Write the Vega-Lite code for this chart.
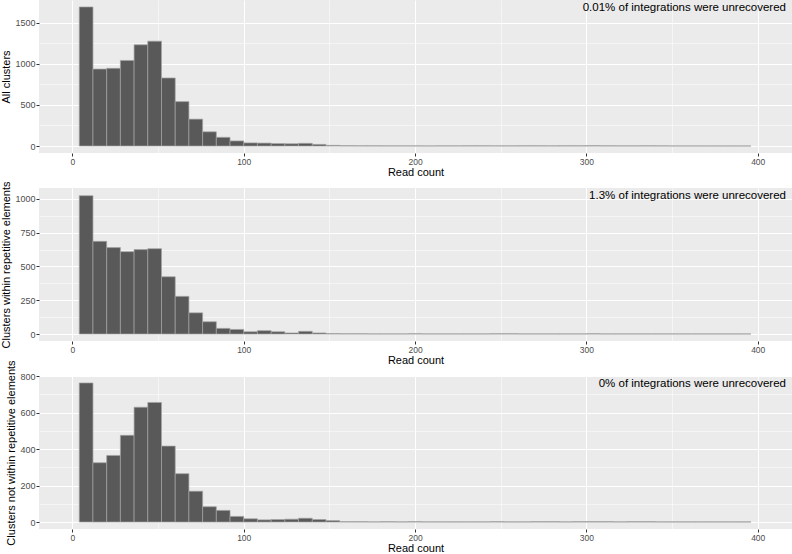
{
  "$schema": "https://vega.github.io/schema/vega-lite/v6.json",
  "padding": {"left": 0, "top": 0, "right": 0, "bottom": 0},
  "background": "white",
  "datasets": {
    "p1": [
      {"start": 4, "end": 12, "count": 1690}, {"start": 12, "end": 20, "count": 935}, {"start": 20, "end": 28, "count": 944},
      {"start": 28, "end": 36, "count": 1040}, {"start": 36, "end": 44, "count": 1230}, {"start": 44, "end": 52, "count": 1274},
      {"start": 52, "end": 60, "count": 827}, {"start": 60, "end": 68, "count": 540}, {"start": 68, "end": 76, "count": 327},
      {"start": 76, "end": 84, "count": 173}, {"start": 84, "end": 92, "count": 106}, {"start": 92, "end": 100, "count": 62},
      {"start": 100, "end": 108, "count": 38}, {"start": 108, "end": 116, "count": 36}, {"start": 116, "end": 124, "count": 30},
      {"start": 124, "end": 132, "count": 28}, {"start": 132, "end": 140, "count": 33}, {"start": 140, "end": 148, "count": 20},
      {"start": 148, "end": 156, "count": 8}, {"start": 156, "end": 164, "count": 4}, {"start": 164, "end": 172, "count": 3},
      {"start": 172, "end": 180, "count": 3}, {"start": 180, "end": 188, "count": 2}, {"start": 188, "end": 196, "count": 2},
      {"start": 196, "end": 204, "count": 2}, {"start": 204, "end": 212, "count": 1}, {"start": 212, "end": 220, "count": 2},
      {"start": 220, "end": 228, "count": 2}, {"start": 228, "end": 236, "count": 3}, {"start": 236, "end": 244, "count": 3},
      {"start": 244, "end": 252, "count": 2}, {"start": 252, "end": 260, "count": 2}, {"start": 260, "end": 268, "count": 3},
      {"start": 268, "end": 276, "count": 3}, {"start": 276, "end": 284, "count": 2}, {"start": 284, "end": 292, "count": 3},
      {"start": 292, "end": 300, "count": 3}, {"start": 300, "end": 308, "count": 4}, {"start": 308, "end": 316, "count": 3},
      {"start": 316, "end": 324, "count": 2}, {"start": 324, "end": 332, "count": 2}, {"start": 332, "end": 340, "count": 3},
      {"start": 340, "end": 348, "count": 2}, {"start": 348, "end": 356, "count": 1}, {"start": 356, "end": 364, "count": 1},
      {"start": 364, "end": 372, "count": 1}, {"start": 372, "end": 380, "count": 1}, {"start": 380, "end": 388, "count": 1},
      {"start": 388, "end": 396, "count": 1}
    ],
    "p2": [
      {"start": 4, "end": 12, "count": 1024}, {"start": 12, "end": 20, "count": 686}, {"start": 20, "end": 28, "count": 640},
      {"start": 28, "end": 36, "count": 610}, {"start": 36, "end": 44, "count": 625}, {"start": 44, "end": 52, "count": 632},
      {"start": 52, "end": 60, "count": 424}, {"start": 60, "end": 68, "count": 279}, {"start": 68, "end": 76, "count": 157},
      {"start": 76, "end": 84, "count": 91}, {"start": 84, "end": 92, "count": 42}, {"start": 92, "end": 100, "count": 34},
      {"start": 100, "end": 108, "count": 17}, {"start": 108, "end": 116, "count": 25}, {"start": 116, "end": 124, "count": 17},
      {"start": 124, "end": 132, "count": 8}, {"start": 132, "end": 140, "count": 20}, {"start": 140, "end": 148, "count": 8},
      {"start": 148, "end": 156, "count": 3}, {"start": 156, "end": 164, "count": 2}, {"start": 164, "end": 172, "count": 2},
      {"start": 172, "end": 180, "count": 1}, {"start": 180, "end": 188, "count": 1}, {"start": 188, "end": 196, "count": 1},
      {"start": 196, "end": 204, "count": 2}, {"start": 204, "end": 212, "count": 1}, {"start": 212, "end": 220, "count": 1},
      {"start": 220, "end": 228, "count": 1}, {"start": 228, "end": 236, "count": 1}, {"start": 236, "end": 244, "count": 1},
      {"start": 244, "end": 252, "count": 2}, {"start": 252, "end": 260, "count": 2}, {"start": 260, "end": 268, "count": 1},
      {"start": 268, "end": 276, "count": 1}, {"start": 276, "end": 284, "count": 1}, {"start": 284, "end": 292, "count": 1},
      {"start": 292, "end": 300, "count": 1}, {"start": 300, "end": 308, "count": 2}, {"start": 308, "end": 316, "count": 1},
      {"start": 316, "end": 324, "count": 1}, {"start": 324, "end": 332, "count": 1}, {"start": 332, "end": 340, "count": 1},
      {"start": 340, "end": 348, "count": 1}, {"start": 348, "end": 356, "count": 1}, {"start": 356, "end": 364, "count": 1},
      {"start": 364, "end": 372, "count": 1}, {"start": 372, "end": 380, "count": 1}, {"start": 380, "end": 388, "count": 1},
      {"start": 388, "end": 396, "count": 1}
    ],
    "p3": [
      {"start": 4, "end": 12, "count": 762}, {"start": 12, "end": 20, "count": 325}, {"start": 20, "end": 28, "count": 365},
      {"start": 28, "end": 36, "count": 475}, {"start": 36, "end": 44, "count": 629}, {"start": 44, "end": 52, "count": 655},
      {"start": 52, "end": 60, "count": 416}, {"start": 60, "end": 68, "count": 265}, {"start": 68, "end": 76, "count": 169},
      {"start": 76, "end": 84, "count": 84}, {"start": 84, "end": 92, "count": 64}, {"start": 92, "end": 100, "count": 31},
      {"start": 100, "end": 108, "count": 18}, {"start": 108, "end": 116, "count": 12}, {"start": 116, "end": 124, "count": 14},
      {"start": 124, "end": 132, "count": 16}, {"start": 132, "end": 140, "count": 21}, {"start": 140, "end": 148, "count": 14},
      {"start": 148, "end": 156, "count": 8}, {"start": 156, "end": 164, "count": 2}, {"start": 164, "end": 172, "count": 2},
      {"start": 172, "end": 180, "count": 1}, {"start": 180, "end": 188, "count": 2}, {"start": 188, "end": 196, "count": 1},
      {"start": 196, "end": 204, "count": 2}, {"start": 204, "end": 212, "count": 1}, {"start": 212, "end": 220, "count": 1},
      {"start": 220, "end": 228, "count": 1}, {"start": 228, "end": 236, "count": 1}, {"start": 236, "end": 244, "count": 1},
      {"start": 244, "end": 252, "count": 2}, {"start": 252, "end": 260, "count": 1}, {"start": 260, "end": 268, "count": 1},
      {"start": 268, "end": 276, "count": 2}, {"start": 276, "end": 284, "count": 2}, {"start": 284, "end": 292, "count": 1},
      {"start": 292, "end": 300, "count": 2}, {"start": 300, "end": 308, "count": 2}, {"start": 308, "end": 316, "count": 2},
      {"start": 316, "end": 324, "count": 1}, {"start": 324, "end": 332, "count": 2}, {"start": 332, "end": 340, "count": 2},
      {"start": 340, "end": 348, "count": 1}, {"start": 348, "end": 356, "count": 1}, {"start": 356, "end": 364, "count": 1},
      {"start": 364, "end": 372, "count": 1}, {"start": 372, "end": 380, "count": 1}, {"start": 380, "end": 388, "count": 1},
      {"start": 388, "end": 396, "count": 1}
    ]
  },
  "concat": [
    {
      "width": 753, "height": 153,
      "layer": [
        {
          "data": {"name": "p1"},
          "mark": {"type": "bar", "fill": "#595959", "stroke": "#A3A3A3", "strokeWidth": 0.7},
          "encoding": {
            "x": {"field": "start", "type": "quantitative", "scale": {"domain": [-19.5, 420], "nice": false, "zero": false},
              "axis": {"title": "Read count", "values": [0, 50, 100, 150, 200, 250, 300, 350, 400], "tickCount": 30, "labelOverlap": false, "format": "d",
                "labelOpacity": {"condition": {"test": "datum.value % 100 !== 0", "value": 0}, "value": 1},
                "gridWidth": {"condition": {"test": "datum.value % 100 !== 0", "value": 0.5}, "value": 1.1},
                "tickOpacity": {"condition": {"test": "datum.value % 100 !== 0", "value": 0}, "value": 1}}},
            "x2": {"field": "end"},
            "y": {"field": "count", "type": "quantitative", "scale": {"domain": [-84.5, 1774.5], "nice": false, "zero": false},
              "axis": {"title": "All clusters", "values": [0, 250, 500, 750, 1000, 1250, 1500], "tickCount": 30, "labelOverlap": false, "format": "d",
                "labelOpacity": {"condition": {"test": "datum.value % 500 !== 0", "value": 0}, "value": 1},
                "gridWidth": {"condition": {"test": "datum.value % 500 !== 0", "value": 0.5}, "value": 1.1},
                "tickOpacity": {"condition": {"test": "datum.value % 500 !== 0", "value": 0}, "value": 1}}},
            "y2": {"datum": 0}
          }
        },
        {
          "data": {"values": [{"label": "0.01% of integrations were unrecovered"}]},
          "mark": {"type": "text", "align": "right", "baseline": "top", "dx": -6, "dy": 2, "fontSize": 11.5, "font": "Liberation Sans", "color": "black"},
          "encoding": {
            "x": {"datum": 420, "type": "quantitative"},
            "y": {"datum": 1774.5, "type": "quantitative"},
            "text": {"field": "label"}
          }
        }
      ]
    },
    {
      "width": 753, "height": 153,
      "layer": [
        {
          "data": {"name": "p2"},
          "mark": {"type": "bar", "fill": "#595959", "stroke": "#A3A3A3", "strokeWidth": 0.7},
          "encoding": {
            "x": {"field": "start", "type": "quantitative", "scale": {"domain": [-19.5, 420], "nice": false, "zero": false},
              "axis": {"title": "Read count", "values": [0, 50, 100, 150, 200, 250, 300, 350, 400], "tickCount": 30, "labelOverlap": false, "format": "d",
                "labelOpacity": {"condition": {"test": "datum.value % 100 !== 0", "value": 0}, "value": 1},
                "gridWidth": {"condition": {"test": "datum.value % 100 !== 0", "value": 0.5}, "value": 1.1},
                "tickOpacity": {"condition": {"test": "datum.value % 100 !== 0", "value": 0}, "value": 1}}},
            "x2": {"field": "end"},
            "y": {"field": "count", "type": "quantitative", "scale": {"domain": [-51.5, 1081], "nice": false, "zero": false},
              "axis": {"title": "Clusters within repetitive elements", "values": [0, 125, 250, 375, 500, 625, 750, 875, 1000], "tickCount": 30, "labelOverlap": false, "format": "d",
                "labelOpacity": {"condition": {"test": "datum.value % 250 !== 0", "value": 0}, "value": 1},
                "gridWidth": {"condition": {"test": "datum.value % 250 !== 0", "value": 0.5}, "value": 1.1},
                "tickOpacity": {"condition": {"test": "datum.value % 250 !== 0", "value": 0}, "value": 1}}},
            "y2": {"datum": 0}
          }
        },
        {
          "data": {"values": [{"label": "1.3% of integrations were unrecovered"}]},
          "mark": {"type": "text", "align": "right", "baseline": "top", "dx": -6, "dy": 2, "fontSize": 11.5, "font": "Liberation Sans", "color": "black"},
          "encoding": {
            "x": {"datum": 420, "type": "quantitative"},
            "y": {"datum": 1081, "type": "quantitative"},
            "text": {"field": "label"}
          }
        }
      ]
    },
    {
      "width": 753, "height": 153,
      "layer": [
        {
          "data": {"name": "p3"},
          "mark": {"type": "bar", "fill": "#595959", "stroke": "#A3A3A3", "strokeWidth": 0.7},
          "encoding": {
            "x": {"field": "start", "type": "quantitative", "scale": {"domain": [-19.5, 420], "nice": false, "zero": false},
              "axis": {"title": "Read count", "values": [0, 50, 100, 150, 200, 250, 300, 350, 400], "tickCount": 30, "labelOverlap": false, "format": "d",
                "labelOpacity": {"condition": {"test": "datum.value % 100 !== 0", "value": 0}, "value": 1},
                "gridWidth": {"condition": {"test": "datum.value % 100 !== 0", "value": 0.5}, "value": 1.1},
                "tickOpacity": {"condition": {"test": "datum.value % 100 !== 0", "value": 0}, "value": 1}}},
            "x2": {"field": "end"},
            "y": {"field": "count", "type": "quantitative", "scale": {"domain": [-38, 800], "nice": false, "zero": false},
              "axis": {"title": "Clusters not within repetitive elements", "values": [0, 100, 200, 300, 400, 500, 600, 700, 800], "tickCount": 30, "labelOverlap": false, "format": "d",
                "labelOpacity": {"condition": {"test": "datum.value % 200 !== 0", "value": 0}, "value": 1},
                "gridWidth": {"condition": {"test": "datum.value % 200 !== 0", "value": 0.5}, "value": 1.1},
                "tickOpacity": {"condition": {"test": "datum.value % 200 !== 0", "value": 0}, "value": 1}}},
            "y2": {"datum": 0}
          }
        },
        {
          "data": {"values": [{"label": "0% of integrations were unrecovered"}]},
          "mark": {"type": "text", "align": "right", "baseline": "top", "dx": -6, "dy": 2, "fontSize": 11.5, "font": "Liberation Sans", "color": "black"},
          "encoding": {
            "x": {"datum": 420, "type": "quantitative"},
            "y": {"datum": 800, "type": "quantitative"},
            "text": {"field": "label"}
          }
        }
      ]
    }
  ],
  "columns": 1,
  "bounds": "flush",
  "spacing": 35,
  "config": {
    "view": {"fill": "#EBEBEB", "stroke": null},
    "font": "Liberation Sans",
    "axis": {
      "domain": false,
      "gridColor": "white",
      "gridOpacity": 1,
      "labelColor": "#4D4D4D",
      "labelFontSize": 9,
      "labelFont": "Liberation Sans",
      "labelOverlap": false,
      "labelFlush": false,
      "labelPadding": 1,
      "tickColor": "#333333",
      "tickSize": 3,
      "titleFont": "Liberation Sans",
      "titleFontSize": 11,
      "titleFontWeight": "normal",
      "titleColor": "black",
      "titlePadding": 3
    },
    "axisX": {"titleFontSize": 11, "titlePadding": 1, "labelFontSize": 8.5}
  }
}
